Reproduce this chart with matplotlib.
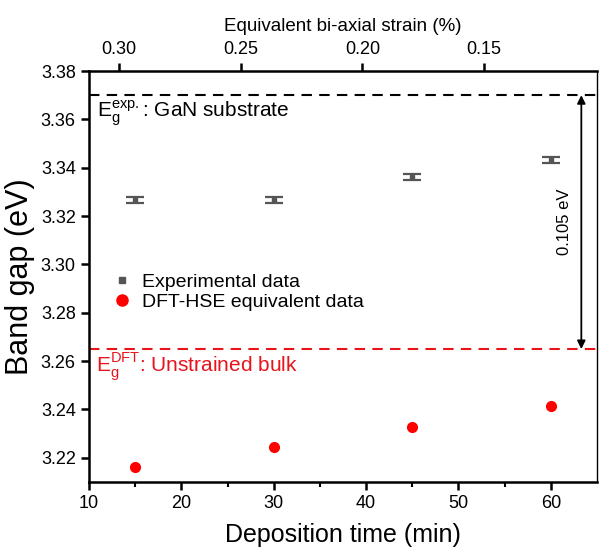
import numpy as np
import matplotlib.pyplot as plt
from matplotlib.lines import Line2D

plt.rcParams['font.family'] = ['Liberation Sans', 'DejaVu Sans']

# Data
time_min = [15, 30, 45, 60]
exp_gap = [3.3265, 3.3265, 3.3362, 3.3433]
exp_err = [0.0012, 0.0012, 0.0012, 0.0012]
dft_gap = [3.2161, 3.2243, 3.2329, 3.2413]
gan_substrate = 3.370
dft_bulk = 3.265
strain_ticks = [0.30, 0.25, 0.20, 0.15]
strain_lim = (0.3123, 0.1036)

fig = plt.figure(figsize=(5.99, 5.5), dpi=100)
ax = fig.add_axes([0.1486, 0.1236, 0.8481, 0.7473])

ax.errorbar(time_min, exp_gap, yerr=exp_err, fmt='s', color='#555555', ms=3,
            capsize=6.5, capthick=1.6, elinewidth=1.6)
ax.plot(time_min, dft_gap, 'o', color='#ff0000', ms=7)

ax.axhline(gan_substrate, color='black', lw=1.5, dashes=(5, 3.5))
ax.axhline(dft_bulk, color='#e8141c', lw=1.5, dashes=(5, 3.5))

ax.annotate('', xy=(63.3, dft_bulk), xytext=(63.3, gan_substrate),
            arrowprops=dict(arrowstyle='<|-|>', color='black', lw=1.3,
                            mutation_scale=12, shrinkA=0, shrinkB=0))
ax.text(61.5, (gan_substrate + dft_bulk) / 2, '%.3f eV' % (gan_substrate - dft_bulk),
        rotation=90, ha='center', va='center', fontsize=12)

ax.text(10.9, 3.3625, r'E$_\mathregular{g}^\mathregular{exp.}$: GaN substrate',
        fontsize=15, ha='left', va='center')
ax.text(10.8, 3.2575, r'E$_\mathregular{g}^\mathregular{DFT}$: Unstrained bulk',
        fontsize=15, ha='left', va='center', color='#e8141c')

ax.set_xlim(10, 65)
ax.set_ylim(3.21, 3.38)
ax.set_xticks([10, 20, 30, 40, 50, 60])
ax.set_xticks([15, 25, 35, 45, 55], minor=True)
ax.set_yticks(np.arange(3.22, 3.381, 0.02))
ax.yaxis.set_major_formatter(plt.FormatStrFormatter('%.2f'))
ax.tick_params(axis='both', which='major', direction='out', length=6, width=1.8, labelsize=13)
ax.tick_params(axis='x', which='minor', direction='out', length=3.5, width=1.5)
for sp in ['left', 'bottom', 'top']:
    ax.spines[sp].set_linewidth(1.8)
ax.spines['right'].set_linewidth(1.0)

ax.set_xlabel('Deposition time (min)', fontsize=18, labelpad=8)
ax.set_ylabel('Band gap (eV)', fontsize=22, labelpad=4)

handles = [Line2D([], [], ls='none', marker='s', ms=4, color='#555555'),
           Line2D([], [], ls='none', marker='o', ms=8, color='#ff0000')]
ax.legend(handles, ['Experimental data', 'DFT-HSE equivalent data'],
          loc='center left', bbox_to_anchor=(0.012, 0.462), frameon=False, fontsize=14,
          handletextpad=0.5, labelspacing=0.15, handlelength=1.0)

top = ax.twiny()
top.set_xlim(*strain_lim)
top.set_xticks(strain_ticks)
top.xaxis.set_major_formatter(plt.FormatStrFormatter('%.2f'))
top.tick_params(axis='x', direction='out', length=6, width=1.8, labelsize=13)
top.set_xlabel('Equivalent bi-axial strain (%)', fontsize=13.5, labelpad=7)
for sp in top.spines.values():
    sp.set_visible(False)

fig.savefig('out.png', dpi=100)
